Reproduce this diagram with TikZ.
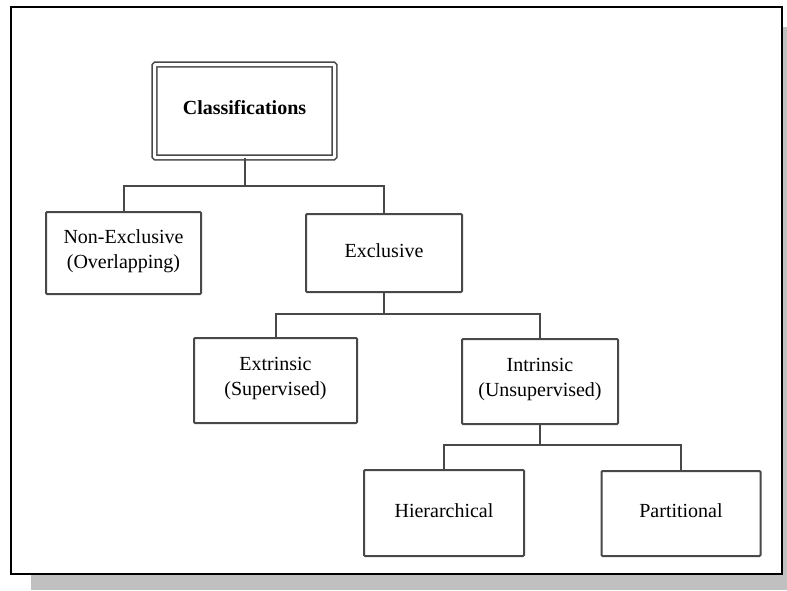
\documentclass[tikz,border=0pt]{standalone}
\usepackage{fontspec}
\setmainfont{Liberation Serif}
\begin{document}
\begin{tikzpicture}[x=1pt,y=-1pt,
  box/.style={draw=linegray, line width=2pt, fill=white, rectangle, rounded corners=1pt,
    align=center, inner sep=0pt, font=\fontsize{20}{25}\selectfont},
  onebox/.style={box, text depth=5pt},
  twobox/.style={box, text depth=8pt},
  conn/.style={draw=linegray, line width=2pt}]
\definecolor{linegray}{RGB}{72,72,72}
\definecolor{shadowgray}{RGB}{192,192,192}
\useasboundingbox (0,0) rectangle (787,590);
% frame with shadow
\fill[shadowgray] (31,27) rectangle (787,590);
\draw[black, line width=2pt, fill=white] (11,7) rectangle (782,574);
% nodes
\node[box, double=white, line width=1.6pt, double distance=3pt, minimum width=180pt, minimum height=93pt,
  text depth=8pt, font=\fontsize{20}{25}\selectfont\bfseries] (cls) at (244.5,111) {Classifications};
\node[twobox, minimum width=155pt, minimum height=82pt] (nonex) at (123.5,253) {Non-Exclusive\\(Overlapping)};
\node[onebox, minimum width=156pt, minimum height=78pt] (excl) at (384,253) {Exclusive};
\node[twobox, minimum width=163pt, minimum height=85pt] (extr) at (275.5,380.5) {Extrinsic\\(Supervised)};
\node[twobox, minimum width=156pt, minimum height=85pt] (intr) at (540,381.5) {Intrinsic\\(Unsupervised)};
\node[onebox, minimum width=160pt, minimum height=86pt] (hier) at (444,513) {Hierarchical};
\node[onebox, minimum width=159pt, minimum height=85pt] (part) at (681,513.5) {Partitional};
% bus coordinates
\coordinate (b1) at (244.5,186);
\coordinate (b2) at (384,314);
\coordinate (b3) at (540,445);
% connectors
\draw[conn] (cls.south) -- (b1);
\draw[conn] (nonex.north) |- (b1) -| (excl.north);
\draw[conn] (excl.south) -- (b2);
\draw[conn] (extr.north) |- (b2) -| (intr.north);
\draw[conn] (intr.south) -- (b3);
\draw[conn] (hier.north) |- (b3) -| (part.north);
\end{tikzpicture}
\end{document}
